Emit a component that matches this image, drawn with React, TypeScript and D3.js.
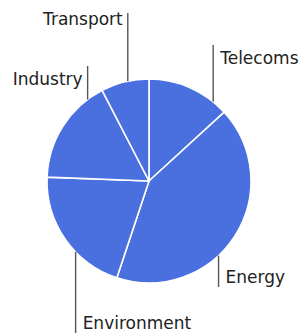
import React from "react";
import * as d3 from "d3";

// sectors, clockwise from 12 o'clock
const sectors = ["Telecoms", "Energy", "Environment", "Industry", "Transport"];
const shares = [13.2, 41.9, 20.5, 16.8, 7.6];

// where each leader line leaves the pie (degrees clockwise from top) and how far it runs
const leaderAngle = [39, 137, 226, 323, 348];
const leaderEnd = [45, 287, 333, 66, 13];
const labelSide = ["right", "right", "right", "left", "left"];

type Datum = { name: string; value: number };

export default function App() {
  const width = 304,
    height = 333;
  const cx = 149,
    cy = 181,
    radius = 102;

  const data: Datum[] = sectors.map((name, i) => ({ name, value: shares[i] }));

  const pie = d3
    .pie<Datum>()
    .sort(null)
    .value((d) => d.value);
  const arcs = pie(data);
  const arc = d3.arc<d3.PieArcDatum<Datum>>().innerRadius(0).outerRadius(radius);

  const rad = (deg: number) => (deg * Math.PI) / 180;

  return (
    <svg
      width={width}
      height={height}
      style={{ position: "absolute", left: 0, top: 0, background: "#fff" }}
    >
      <g transform={`translate(${cx},${cy})`}>
        {arcs.map((a, i) => (
          <path
            key={i}
            d={arc(a) || ""}
            fill="#4a6fdf"
            stroke="#ffffff"
            strokeWidth={1.6}
            strokeLinejoin="round"
          />
        ))}
      </g>

      {/* ラベル */}
      {sectors.map((name, i) => {
        const x = cx + radius * Math.sin(rad(leaderAngle[i]));
        const y = cy - radius * Math.cos(rad(leaderAngle[i]));
        const y2 = leaderEnd[i];
        const up = y2 < y;
        const right = labelSide[i] === "right";
        const ty = up ? y2 + (i === 4 ? 12 : 19) : y2 - 4;
        return (
          <g key={name}>
            <line
              x1={x}
              x2={x}
              y1={y}
              y2={y2}
              stroke="#555"
              strokeWidth={1.4}
            />
            <text
              x={right ? x + 7 : x - 5}
              y={ty}
              textAnchor={right ? "start" : "end"}
              fontFamily="DejaVu Sans, sans-serif"
              fontSize={17}
              fill="#222"
            >
              {name}
            </text>
          </g>
        );
      })}
    </svg>
  );
}
